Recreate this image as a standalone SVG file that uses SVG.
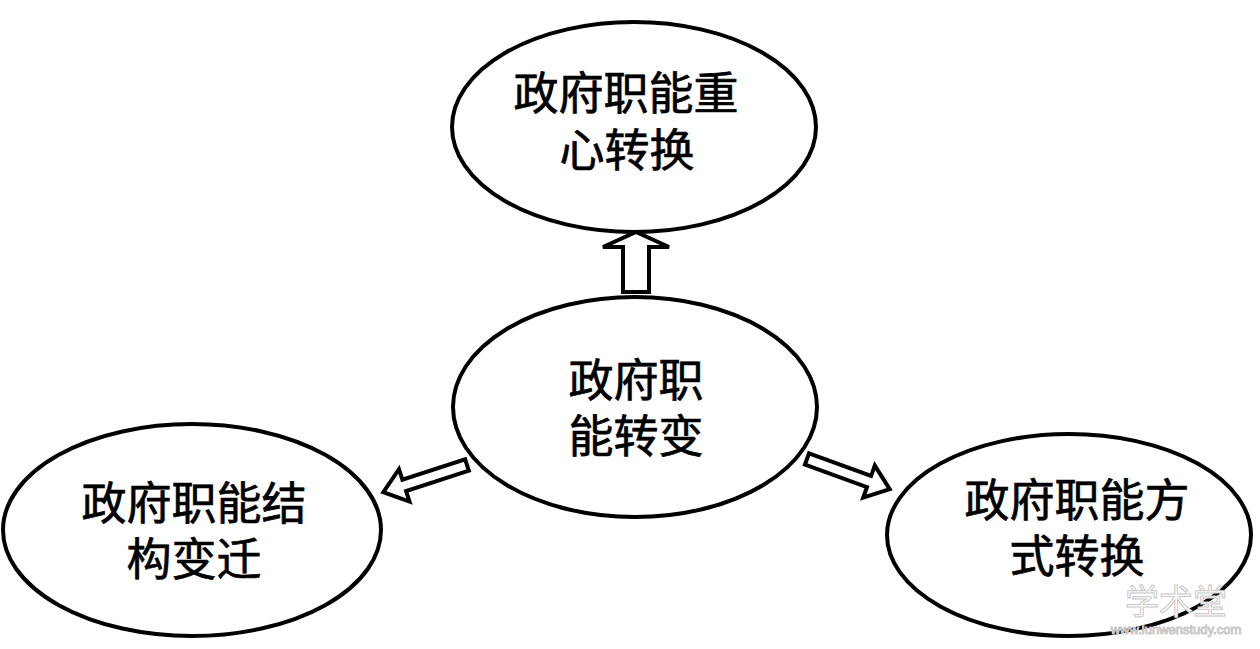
<svg xmlns="http://www.w3.org/2000/svg" width="1260" height="649" viewBox="0 0 1260 649">
<style>
.node ellipse{fill:#fff;stroke:#000;stroke-width:4}
.node text{font-family:"Noto Sans CJK SC","Noto Sans CJK TC",sans-serif;font-size:45px;fill:#000;stroke:#000;stroke-width:0.7;text-anchor:middle}
.arr path{fill:#fff;stroke:#000;stroke-width:4;stroke-linejoin:miter}
.wm{font-family:"Noto Sans CJK SC","Liberation Sans",sans-serif;fill:#fff;stroke:#c8c8c8;stroke-width:1;text-anchor:middle}
</style>
<rect width="1260" height="649" fill="#fff"/>
<g id="node-top" class="node">
<ellipse cx="634" cy="127" rx="182" ry="105"/>
<text><tspan x="626" y="110">政府职能重</tspan><tspan x="627" y="167">心转换</tspan></text>
</g>
<g id="node-center" class="node">
<ellipse cx="635" cy="407" rx="182" ry="110"/>
<text><tspan x="636" y="397">政府职</tspan><tspan x="636" y="453">能转变</tspan></text>
</g>
<g id="node-left" class="node">
<ellipse cx="192" cy="530" rx="189" ry="106"/>
<text><tspan x="194" y="520">政府职能结</tspan><tspan x="194" y="576">构变迁</tspan></text>
</g>
<g id="node-right" class="node">
<ellipse cx="1069" cy="535" rx="182" ry="101"/>
<text><tspan x="1077" y="517">政府职能方</tspan><tspan x="1077" y="573">式转换</tspan></text>
</g>
<g id="connectors" class="arr">
<path transform="translate(636,292) rotate(-90)" d="M0,-13 L45,-13 L45,-33 L60,0 L45,33 L45,13 L0,13 Z"/>
<path transform="translate(467,465) rotate(162)" d="M0,-6 L66,-6 L66,-17 L88,0 L66,17 L66,6 L0,6 Z"/>
<path transform="translate(807,459) rotate(20)" d="M0,-6 L66,-6 L66,-17 L88,0 L66,17 L66,6 L0,6 Z"/>
</g>
<g id="watermark">
<text class="wm" x="1176" y="614" font-size="34">学术堂</text>
<text class="wm" x="1176" y="634" font-size="13" style="font-family:'Liberation Sans',sans-serif">www.lunwenstudy.com</text>
</g>
</svg>
